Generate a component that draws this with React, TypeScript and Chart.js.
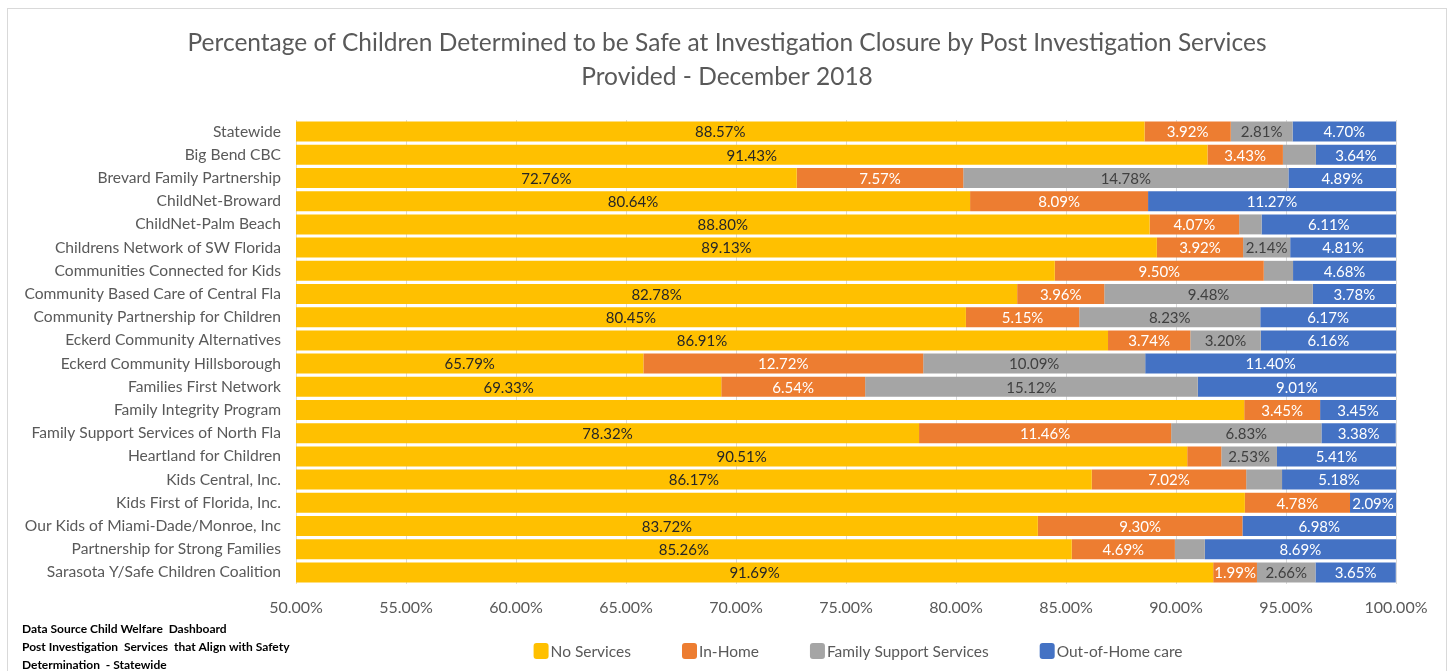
import React, { useEffect, useRef } from "react";
import { Chart, registerables } from "chart.js";

Chart.register(...registerables);

const categories = [
  "Statewide",
  "Big Bend CBC",
  "Brevard Family Partnership",
  "ChildNet-Broward",
  "ChildNet-Palm Beach",
  "Childrens Network of SW Florida",
  "Communities Connected for Kids",
  "Community Based Care of Central Fla",
  "Community Partnership for Children",
  "Eckerd Community Alternatives",
  "Eckerd Community Hillsborough",
  "Families First Network",
  "Family Integrity Program",
  "Family Support Services of North Fla",
  "Heartland for Children",
  "Kids Central, Inc.",
  "Kids First of Florida, Inc.",
  "Our Kids of Miami-Dade/Monroe, Inc",
  "Partnership for Strong Families",
  "Sarasota Y/Safe Children Coalition",
];

const noServices = [88.57, 91.43, 72.76, 80.64, 88.8, 89.13, 84.49, 82.78, 80.45, 86.91, 65.79, 69.33, 93.1, 78.32, 90.51, 86.17, 93.13, 83.72, 85.26, 91.69];
const inHome = [3.92, 3.43, 7.57, 8.09, 4.07, 3.92, 9.5, 3.96, 5.15, 3.74, 12.72, 6.54, 3.45, 11.46, 1.55, 7.02, 4.78, 9.3, 4.69, 1.99];
const familySupport = [2.81, 1.5, 14.78, 0, 1.02, 2.14, 1.33, 9.48, 8.23, 3.2, 10.09, 15.12, 0, 6.83, 2.53, 1.63, 0, 0, 1.36, 2.66];
const outOfHome = [4.7, 3.64, 4.89, 11.27, 6.11, 4.81, 4.68, 3.78, 6.17, 6.16, 11.4, 9.01, 3.45, 3.38, 5.41, 5.18, 2.09, 6.98, 8.69, 3.65];

const seriesNames = ["No Services", "In-Home", "Family Support Services", "Out-of-Home care"];
const seriesColors = ["#FFC000", "#ED7D31", "#A5A5A5", "#4472C4"];
const labelColors = ["#262626", "#FFFFFF", "#404040", "#FFFFFF"];
// No Services labels that are not shown in the original
const hiddenNoServicesLabels = [
  "Communities Connected for Kids",
  "Family Integrity Program",
  "Kids First of Florida, Inc.",
];
const labelThreshold = 1.8;

const titleLines = [
  "Percentage of Children Determined to be Safe at Investigation Closure by Post Investigation Services",
  "Provided - December 2018",
];
const noteLines = [
  "Data Source Child Welfare  Dashboard",
  "Post Investigation  Services  that Align with Safety",
  "Determination  - Statewide",
];
const xTicks = [50, 55, 60, 65, 70, 75, 80, 85, 90, 95, 100];

const FONT = "Lato, 'Open Sans', 'Noto Sans', sans-serif";

const labelPlugin = {
  id: "segmentLabels",
  afterDatasetsDraw(chart: any) {
    const ctx = chart.ctx;
    const area = chart.chartArea;
    ctx.save();
    ctx.font = `15px ${FONT}`;
    ctx.textAlign = "center";
    ctx.textBaseline = "middle";
    chart.data.datasets.forEach((ds: any, i: number) => {
      const meta = chart.getDatasetMeta(i);
      meta.data.forEach((bar: any, j: number) => {
        const v = ds.data[j];
        if (v < labelThreshold) return;
        if (i === 0 && hiddenNoServicesLabels.includes(categories[j])) return;
        const p = bar.getProps(["x", "y", "base"], true);
        const left = Math.max(Math.min(p.x, p.base), area.left);
        const right = Math.min(Math.max(p.x, p.base), area.right);
        ctx.fillStyle = labelColors[i];
        ctx.fillText(v.toFixed(2) + "%", (left + right) / 2, p.y + 1);
      });
    });
    ctx.restore();
  },
};

const legendNotesPlugin = {
  id: "legendNotes",
  afterDraw(chart: any) {
    const ctx = chart.ctx;
    const area = chart.chartArea;
    ctx.save();
    // legend
    ctx.font = `15.5px ${FONT}`;
    ctx.textBaseline = "middle";
    ctx.textAlign = "left";
    const box = 15;
    const gapText = 2;
    const gapItem = 51;
    const widths = seriesNames.map((n) => box + gapText + ctx.measureText(n).width);
    const total = widths.reduce((a, b) => a + b, 0) + gapItem * (widths.length - 1);
    let x = (area.left + area.right) / 2 + 12 - total / 2;
    const y = 642;
    seriesNames.forEach((n, i) => {
      ctx.fillStyle = seriesColors[i];
      ctx.beginPath();
      (ctx as any).roundRect(x, y - 8, box, 16, 3);
      ctx.fill();
      ctx.fillStyle = "#595959";
      ctx.fillText(n, x + box + gapText, y + 1);
      x += widths[i] + gapItem;
    });
    // notes
    ctx.font = `bold 12px ${FONT}`;
    ctx.fillStyle = "#000000";
    noteLines.forEach((t, i) => {
      ctx.fillText(t, 14, 620 + i * 18);
    });
    ctx.restore();
  },
};

export default function App() {
  const ref = useRef<HTMLCanvasElement | null>(null);
  useEffect(() => {
    if (!ref.current) return;
    const chart = new Chart(ref.current, {
      type: "bar",
      data: {
        labels: categories,
        datasets: [noServices, inHome, familySupport, outOfHome].map((d, i) => ({
          label: seriesNames[i],
          data: d,
          backgroundColor: seriesColors[i],
          borderWidth: 0,
          barPercentage: 0.86,
          categoryPercentage: 1,
        })),
      },
      options: {
        indexAxis: "y",
        animation: false,
        responsive: false,
        maintainAspectRatio: false,
        layout: { padding: { top: 0, left: 0, right: 0, bottom: 47 } },
        plugins: {
          legend: { display: false },
          tooltip: { enabled: false },
          title: {
            display: true,
            text: titleLines,
            color: "#595959",
            font: { family: FONT, size: 24.5, weight: "normal", lineHeight: 34 / 24.5 },
            padding: { top: 17, bottom: 26 },
          },
        },
        scales: {
          x: {
            stacked: true,
            min: 50,
            max: 100,
            afterBuildTicks(scale: any) {
              scale.ticks = xTicks.map((v) => ({ value: v }));
            },
            afterFit(scale: any) {
              scale.height = 40;
              scale.paddingRight = 50;
            },
            ticks: {
              callback: (v: any) => Number(v).toFixed(2) + "%",
              color: "#595959",
              font: { family: FONT, size: 16 },
              padding: 14,
              maxRotation: 0,
            },
            grid: { color: "#D9D9D9", drawTicks: false },
            border: { display: false },
          },
          y: {
            stacked: true,
            afterFit(scale: any) {
              scale.width = 288;
            },
            ticks: {
              color: "#595959",
              font: { family: FONT, size: 15.6 },
              padding: 15,
              autoSkip: false,
            },
            grid: { display: false, drawTicks: false },
            border: { display: false },
          },
        },
      },
      plugins: [labelPlugin, legendNotesPlugin],
    });
    return () => chart.destroy();
  }, []);

  return (
    <div
      style={{
        position: "absolute",
        left: 7,
        top: 8,
        width: 1438,
        height: 663,
        borderTop: "1px solid #D9D9D9",
        borderLeft: "1px solid #D9D9D9",
        borderRight: "1px solid #D9D9D9",
        background: "#FFFFFF",
      }}
    >
      <canvas ref={ref} width={1438} height={662} style={{ display: "block" }} />
    </div>
  );
}
